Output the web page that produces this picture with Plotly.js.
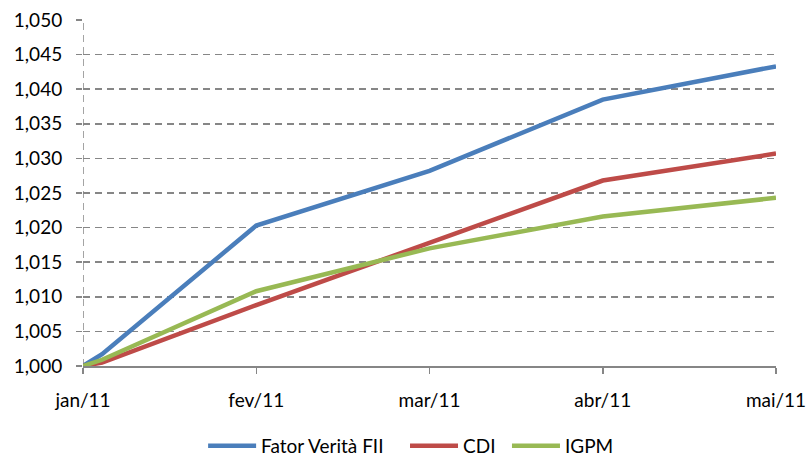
<!DOCTYPE html>
<html>
<head>
<meta charset="utf-8">
<script src="https://cdn.plot.ly/plotly-3.0.1.min.js"></script>
<style>html,body{margin:0;padding:0;background:#fff;}#chart{width:806px;height:460px;}</style>
</head>
<body>
<div id="chart"></div>
<script>
// Month positions (0 = jan/11 ... 4 = mai/11); one early observation in January
const xPos = [0, 0.11, 1, 2, 3, 4];
const tickVals = [0, 1, 2, 3, 4];
const tickLabels = ["jan/11", "fev/11", "mar/11", "abr/11", "mai/11"];

const fatorVerita = [1.0000, 1.0017, 1.0203, 1.0282, 1.0385, 1.0433];
const cdi         = [1.0000, 1.0005, 1.0088, 1.0178, 1.0268, 1.0307];
const igpm        = [1.0000, 1.0009, 1.0108, 1.0170, 1.0216, 1.0243];

const seriesNames = ["Fator Verità FII", "CDI", "IGPM"];
const seriesColors = ["#4A7EBB", "#BE4B48", "#98B954"];
const seriesData = [fatorVerita, cdi, igpm];

const yTickVals = [1.000,1.005,1.010,1.015,1.020,1.025,1.030,1.035,1.040,1.045,1.050];
const yTickText = ["1,000","1,005","1,010","1,015","1,020","1,025","1,030","1,035","1,040","1,045","1,050"];

const font = "Lato, 'Open Sans', sans-serif";
const fs = 19;
const legendIds = ["legend", "legend2", "legend3"];
const legendX = [0.252, 0.5025, 0.629];

const traces = seriesData.map((ys, i) => ({
  type: "scatter",
  mode: "lines",
  x: xPos,
  y: ys,
  name: seriesNames[i],
  legend: legendIds[i],
  line: {color: seriesColors[i], width: 4.5}
}));

function legendCfg(x) {
  return {
    orientation: "h", xref: "container", x: x, xanchor: "left",
    yref: "container", y: 0.072, yanchor: "top",
    font: {family: font, size: fs, color: "#000"},
    itemwidth: 48, bgcolor: "rgba(0,0,0,0)", borderwidth: 0
  };
}

const layout = {
  width: 806, height: 460,
  margin: {l: 83, r: 30, t: 20, b: 94},
  paper_bgcolor: "#fff", plot_bgcolor: "#fff",
  font: {family: font, size: fs, color: "#000"},
  showlegend: true,
  legend: legendCfg(legendX[0]),
  legend2: legendCfg(legendX[1]),
  legend3: legendCfg(legendX[2]),
  xaxis: {
    range: [0, 4], tickmode: "array", tickvals: tickVals, ticktext: tickLabels,
    showgrid: false, zeroline: false,
    showline: true, linecolor: "#868686", linewidth: 1.5,
    ticks: "outside", ticklen: 6, tickcolor: "#868686", tickwidth: 1.5,
    tickfont: {family: font, size: fs, color: "#000"},
    ticklabelstandoff: 11, ticklabeloverflow: "allow",
    automargin: false,
    fixedrange: true
  },
  yaxis: {
    range: [1.000, 1.050], tickmode: "array", tickvals: yTickVals, ticktext: yTickText,
    showgrid: true, gridcolor: "#868686", gridwidth: 1.5, griddash: "7px,5px",
    zeroline: false, showline: false,
    ticks: "outside", ticklen: 6, tickcolor: "#868686", tickwidth: 1.5,
    tickfont: {family: font, size: fs, color: "#000"},
    ticklabelstandoff: 10, automargin: false,
    fixedrange: true
  },
  shapes: [{
    type: "line", xref: "x", yref: "paper", x0: 0, x1: 0, y0: 0, y1: 1,
    line: {color: "#868686", width: 1.5, dash: "7px,5px"}, layer: "below"
  }]
};

Plotly.newPlot("chart", traces, layout, {displayModeBar: false, staticPlot: true});
</script>
</body>
</html>
